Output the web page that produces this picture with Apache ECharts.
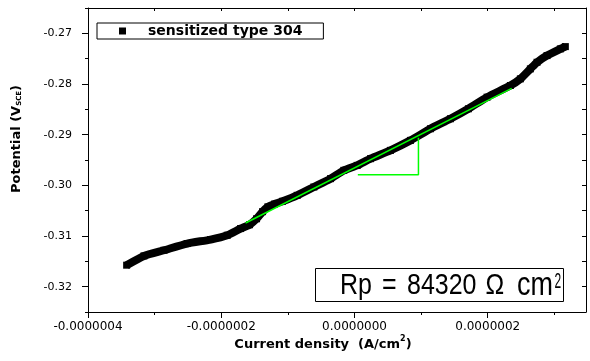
<!DOCTYPE html>
<html>
<head>
<meta charset="utf-8">
<script src="https://cdn.jsdelivr.net/npm/echarts@6/dist/echarts.min.js"></script>
<style>html,body{margin:0;padding:0;background:#fff}#chart{width:590px;height:361px}</style>
</head>
<body>
<div id="chart"></div>
<script>
// Measured polarization curve (current density A/cm^2, potential V_SCE)
const currentDensity = [-3.42e-7, -3.16e-7, -2.86e-7, -2.51e-7, -2.16e-7, -1.91e-7, -1.71e-7, -1.575e-7, -1.47e-7, -1.38e-7, -1.30e-7, -1.20e-7, -1.08e-7, -0.86e-7, -0.61e-7, -0.36e-7, -0.16e-7, 0.04e-7, 0.24e-7, 0.54e-7, 0.84e-7, 1.14e-7, 1.44e-7, 1.71e-7, 1.99e-7, 2.34e-7, 2.49e-7, 2.64e-7, 2.74e-7, 2.89e-7, 3.09e-7, 3.165e-7];
const potential = [-0.31576, -0.31393, -0.31281, -0.31149, -0.31070, -0.30985, -0.30853, -0.30778, -0.3066, -0.30520, -0.30425, -0.30370, -0.30315, -0.30197, -0.30033, -0.29868, -0.29704, -0.29606, -0.29474, -0.2931, -0.29113, -0.28883, -0.28686, -0.28489, -0.2826, -0.2803, -0.27898, -0.27701, -0.27571, -0.27439, -0.27307, -0.27262];
// Linear fit line
const fitCurrent = [-1.635e-7, 2.36e-7];
const fitPotential = [-0.30744, -0.28085];
// Slope triangle
const triCurrent = [0.05e-7, 0.96e-7, 0.96e-7];
const triPotential = [-0.2979, -0.2979, -0.2906];
// Axes
const xMin = -4e-7, xMax = 3.475e-7;
const yMin = -0.325, yMax = -0.265;
const xMajorTicks = [-4e-7, -2e-7, 0, 2e-7];
const xMinorTicks = [-3e-7, -1e-7, 1e-7, 3e-7];
const xAllTicks = [-4e-7, -3e-7, -2e-7, -1e-7, 0, 1e-7, 2e-7, 3e-7];
const yMajorTicks = [-0.32, -0.31, -0.30, -0.29, -0.28, -0.27];
const yMinorTicks = [-0.325, -0.315, -0.305, -0.295, -0.285, -0.275, -0.265];
const yAllTicks = [-0.325, -0.32, -0.315, -0.31, -0.305, -0.30, -0.295, -0.29, -0.285, -0.28, -0.275, -0.27, -0.265];
const seriesName = 'sensitized type 304';
const rpText = ['Rp', '=', '84320', 'Ω', 'cm'];

const zip = (a, b) => a.map((v, i) => [v, b[i]]);
const FONT = 'DejaVu Sans';
const black = '#000';

const baseX = {type: 'value', min: xMin, max: xMax, gridIndex: 0, splitLine: {show: false}};
const baseY = {type: 'value', min: yMin, max: yMax, gridIndex: 0, splitLine: {show: false}};
const line = show => ({show: show, onZero: false, lineStyle: {color: black, width: 1}});

const chart = echarts.init(document.getElementById('chart'), null, {renderer: 'canvas'});
chart.setOption({
  animation: false,
  backgroundColor: '#fff',
  grid: {left: 88, right: 4, top: 8, bottom: 49, containLabel: false},
  xAxis: [
    Object.assign({}, baseX, {
      position: 'bottom',
      axisLine: line(true),
      axisTick: {show: true, inside: false, length: 6, customValues: xMajorTicks, lineStyle: {color: black, width: 1}},
      axisLabel: {show: true, customValues: xMajorTicks, margin: 9, color: black, fontFamily: FONT, fontSize: 12,
        formatter: v => (Math.abs(v) < 1e-15 ? 0 : v).toFixed(7)}
    }),
    Object.assign({}, baseX, {
      position: 'bottom',
      axisLine: line(false),
      axisTick: {show: true, inside: false, length: 3, customValues: xMinorTicks, lineStyle: {color: black, width: 1}},
      axisLabel: {show: false}
    }),
    Object.assign({}, baseX, {
      position: 'top',
      axisLine: line(true),
      axisTick: {show: true, inside: true, length: 3, customValues: xAllTicks, lineStyle: {color: black, width: 1}},
      axisLabel: {show: false}
    })
  ],
  yAxis: [
    Object.assign({}, baseY, {
      position: 'left',
      axisLine: line(true),
      axisTick: {show: true, inside: false, length: 6, customValues: yMajorTicks, lineStyle: {color: black, width: 1}},
      axisLabel: {show: true, customValues: yMajorTicks, margin: 16, color: black, fontFamily: FONT, fontSize: 11,
        formatter: v => v.toFixed(2)}
    }),
    Object.assign({}, baseY, {
      position: 'left',
      axisLine: line(false),
      axisTick: {show: true, inside: false, length: 3, customValues: yMinorTicks, lineStyle: {color: black, width: 1}},
      axisLabel: {show: false}
    }),
    Object.assign({}, baseY, {
      position: 'right',
      axisLine: line(true),
      axisTick: {show: true, inside: true, length: 4, customValues: yAllTicks, lineStyle: {color: black, width: 1}},
      axisLabel: {show: false}
    })
  ],
  legend: {
    data: [{name: seriesName, icon: 'rect'}],
    left: 97, top: 23,
    itemWidth: 7, itemHeight: 7,
    padding: [1, 21, 1, 22],
    borderColor: black, borderWidth: 1,
    selectedMode: false,
    textStyle: {fontFamily: FONT, fontWeight: 'bold', fontSize: 14, color: black, padding: [0, 0, 0, 17]}
  },
  series: [
    {
      type: 'line', name: seriesName, xAxisIndex: 0, yAxisIndex: 0,
      data: zip(currentDensity, potential),
      symbol: 'rect', symbolSize: 7, showSymbol: true, smooth: 0.2,
      lineStyle: {color: black, width: 8, join: 'round'},
      itemStyle: {color: black}, z: 2
    },
    {
      type: 'line', name: 'fit', xAxisIndex: 0, yAxisIndex: 0,
      data: zip(fitCurrent, fitPotential), symbol: 'none',
      lineStyle: {color: '#00ff00', width: 1.5}, z: 3
    },
    {
      type: 'line', name: 'slope', xAxisIndex: 0, yAxisIndex: 0,
      data: zip(triCurrent, triPotential), symbol: 'none',
      lineStyle: {color: '#00ff00', width: 1.5}, z: 3
    }
  ],
  graphic: [
    {
      type: 'text', x: 15, y: 139, rotation: Math.PI / 2,
      style: {
        text: '{b|Potential (V}{s|SCE}{b|)}',
        align: 'center', verticalAlign: 'middle',
        rich: {
          b: {fontFamily: FONT, fontWeight: 'bold', fontSize: 13, fill: black, lineHeight: 16, verticalAlign: 'bottom'},
          s: {fontFamily: FONT, fontWeight: 'bold', fontSize: 7, fill: black, lineHeight: 8, verticalAlign: 'bottom'}
        }
      }
    },
    {
      type: 'text', x: 323, y: 343,
      style: {
        text: '{b|Current density  (A/cm}{s|2}{b|)}',
        align: 'center', verticalAlign: 'middle',
        rich: {
          b: {fontFamily: FONT, fontWeight: 'bold', fontSize: 13, fill: black, lineHeight: 16, verticalAlign: 'bottom'},
          s: {fontFamily: FONT, fontWeight: 'bold', fontSize: 8, fill: black, lineHeight: 9, verticalAlign: 'top'}
        }
      }
    },
    {
      type: 'rect', shape: {x: 315.5, y: 268.5, width: 248, height: 33},
      style: {fill: '#fff', stroke: black, lineWidth: 1}, z: 10
    },
    ...rpText.map((t, i) => ({
      type: 'text', x: [340, 382, 407, 485.5, 517][i], y: 286, scaleY: 1.2, z: 11,
      style: {text: t, x: 0, y: 0, align: 'left', verticalAlign: 'middle', fontFamily: 'Liberation Sans',
        fontSize: i === 4 ? 27 : 25, fill: black}
    })),
    {
      type: 'text', x: 554.5, y: 271, scaleY: 1.8, z: 11,
      style: {text: '2', x: 0, y: 0, align: 'left', verticalAlign: 'top', fontFamily: 'Liberation Sans', fontSize: 12, fill: black}
    }
  ]
});
</script>
</body>
</html>
